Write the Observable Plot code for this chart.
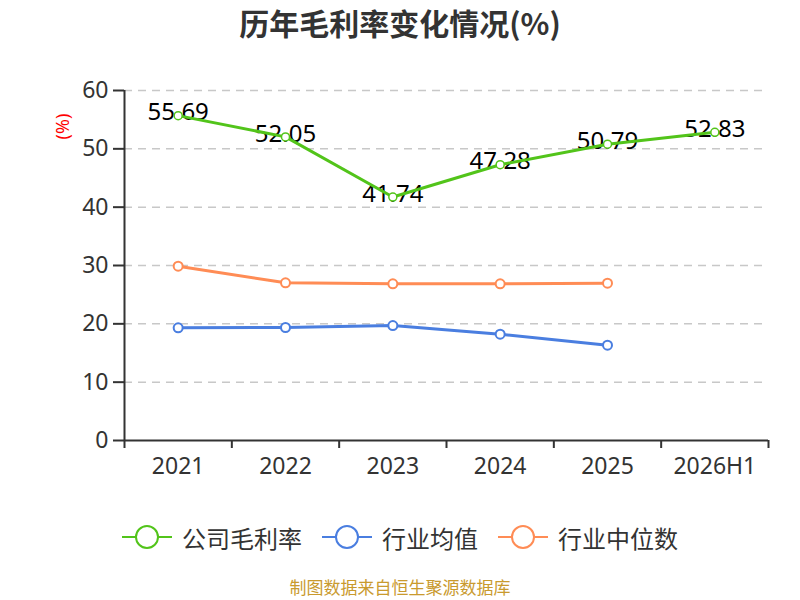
<!DOCTYPE html>
<html>
<head>
<meta charset="utf-8">
<script src="https://cdn.jsdelivr.net/npm/d3@7"></script>
<script src="https://cdn.jsdelivr.net/npm/@observablehq/plot@0.6"></script>
<style>
  html, body { margin: 0; padding: 0; background: #fff; }
  body { font-family: "Noto Sans", "Noto Sans CJK SC", sans-serif; }
  #wrap { position: relative; width: 800px; height: 600px; }
  #title { position: absolute; top: 0; left: 0; width: 800px; height: 45px; line-height: 45px;
           text-align: center; font-size: 30px; font-weight: bold; color: #333;
           font-family: "Noto Sans CJK SC", "Noto Sans", sans-serif; }
  #chart { position: absolute; top: 45px; left: 0; }
  #legend { position: absolute; top: 517px; left: 0; width: 800px; height: 40px;
            display: flex; justify-content: center; align-items: center; }
  .item { display: flex; align-items: center; margin: 0 10px; }
  .item span { font-size: 24px; color: #333; margin-left: 10px; font-family: "Noto Sans CJK SC", sans-serif; }
  #caption { position: absolute; top: 575px; left: 0; width: 800px; height: 24px; line-height: 24px;
             text-align: center; font-size: 17px; color: #c99a2e; font-family: "Noto Sans CJK SC", sans-serif; }
</style>
</head>
<body>
<div id="wrap">
  <div id="title">历年毛利率变化情况(%)</div>
  <div id="chart"></div>
  <div id="legend"></div>
  <div id="caption">制图数据来自恒生聚源数据库</div>
</div>
<script>
const categories = ["2021", "2022", "2023", "2024", "2025", "2026H1"];
const companyMargin = [55.69, 52.05, 41.74, 47.28, 50.79, 52.83];
const industryAvg = [19.31, 19.37, 19.71, 18.23, 16.34];
const industryMedian = [29.88, 27.03, 26.86, 26.86, 26.97];
const yTicks = [0, 10, 20, 30, 40, 50, 60];

const seriesNames = ["公司毛利率", "行业均值", "行业中位数"];
const seriesColors = ["#52c41a", "#4a7ee0", "#ff8c55"];

const toRows = (vals) => vals.map((v, i) => ({pos: i + 0.5, v, cat: categories[i]}));
const compRows = toRows(companyMargin);
const avgRows = toRows(industryAvg);
const medRows = toRows(industryMedian);

const chart = Plot.plot({
  width: 800,
  height: 470,
  marginTop: 45,
  marginBottom: 75,
  marginLeft: 124,
  marginRight: 32,
  x: {domain: [0, categories.length], axis: null},
  y: {domain: [0, 60], axis: null},
  style: {fontFamily: '"Noto Sans", "Noto Sans CJK SC", sans-serif', background: "#fff", overflow: "visible"},
  marks: [
    Plot.ruleY(yTicks.filter(t => t > 0), {stroke: "#c8c8c8", strokeWidth: 1.5, strokeDasharray: "8,6"}),
    Plot.axisY({ticks: yTicks, tickSize: 11, tickPadding: 5, fontSize: 23, color: "#333", strokeWidth: 2, label: null}),
    Plot.axisX({ticks: d3.range(0, categories.length + 1), tickSize: 8, tickFormat: () => "", color: "#333", strokeWidth: 2, label: null}),
    Plot.axisX({ticks: categories.map((_, i) => i + 0.5), tickFormat: d => categories[Math.round(d - 0.5)], tickSize: 0, tickPadding: 17, fontSize: 23, color: "#333", label: null}),
    Plot.ruleY([0], {stroke: "#333", strokeWidth: 2}),
    Plot.ruleX([0], {y1: 0, y2: 60, stroke: "#333", strokeWidth: 2}),
    Plot.text(["(%)"], {frameAnchor: "top-left", dx: -61, dy: 36, rotate: -90, fill: "red", fontSize: 18, textAnchor: "middle", lineAnchor: "middle"}),
    Plot.text(compRows, {x: "pos", y: "v", text: d => d.v.toFixed(2), fontSize: 24, fill: "#000", dy: -3, lineAnchor: "middle", textAnchor: "middle"}),
    Plot.line(medRows, {x: "pos", y: "v", stroke: seriesColors[2], strokeWidth: 3}),
    Plot.line(avgRows, {x: "pos", y: "v", stroke: seriesColors[1], strokeWidth: 3}),
    Plot.line(compRows, {x: "pos", y: "v", stroke: seriesColors[0], strokeWidth: 3}),
    Plot.dot(medRows, {x: "pos", y: "v", r: 4.5, fill: "#fff", stroke: seriesColors[2], strokeWidth: 2}),
    Plot.dot(avgRows, {x: "pos", y: "v", r: 4.5, fill: "#fff", stroke: seriesColors[1], strokeWidth: 2}),
    Plot.dot(compRows, {x: "pos", y: "v", r: 4, fill: "#fff", stroke: seriesColors[0], strokeWidth: 1.5})
  ]
});
document.getElementById("chart").appendChild(chart);

const legend = document.getElementById("legend");
seriesNames.forEach((name, i) => {
  const item = document.createElement("div");
  item.className = "item";
  item.innerHTML = `<svg width="50" height="26"><line x1="0" y1="13" x2="50" y2="13" stroke="${seriesColors[i]}" stroke-width="2"/><circle cx="25" cy="13" r="11" fill="#fff" stroke="${seriesColors[i]}" stroke-width="2"/></svg><span>${name}</span>`;
  legend.appendChild(item);
});
</script>
</body>
</html>
